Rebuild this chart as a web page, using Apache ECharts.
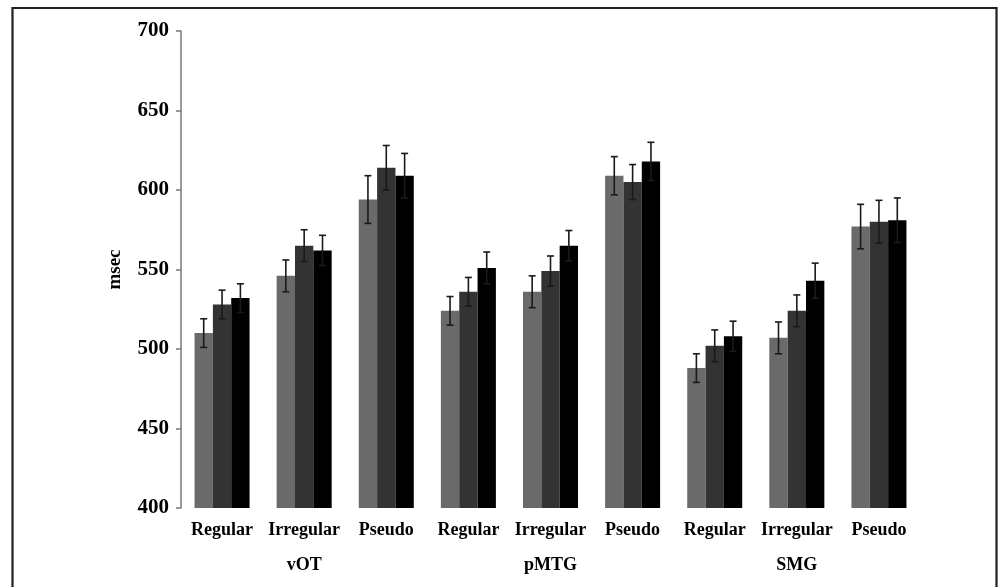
<!DOCTYPE html>
<html>
<head>
<meta charset="utf-8">
<script src="https://cdn.jsdelivr.net/npm/echarts@6/dist/echarts.min.js"></script>
<style>html,body{margin:0;padding:0;background:#fff;}#c{width:998px;height:587px;}</style>
</head>
<body>
<div id="c"></div>
<script>
var categories = ['Regular','Irregular','Pseudo','Regular','Irregular','Pseudo','Regular','Irregular','Pseudo'];
var regions = ['vOT','pMTG','SMG'];
var yTicks = [400,450,500,550,600,650,700];
var seriesA = [510, 546, 594, 524, 536, 609, 488, 507, 577];
var seriesB = [528, 565, 614, 536, 549, 605, 502, 524, 580];
var seriesC = [532, 562, 609, 551, 565, 618, 508, 543, 581];
var errA = [9, 10, 15, 9, 10, 12, 9, 10, 14];
var errB = [9, 10, 14, 9, 9.5, 11, 10, 10, 13.5];
var errC = [9, 9.5, 14, 10, 9.5, 12, 9.5, 11, 14];

var colors = ['#6a6a6a', '#333333', '#000000'];
var allVals = [seriesA, seriesB, seriesC];
var allErr = [errA, errB, errC];
var catGap = 0.33;

function errSeries(idx) {
  var data = allVals[idx].map(function (v, i) { return [i, v - allErr[idx][i], v + allErr[idx][i]]; });
  return {
    type: 'custom',
    xAxisIndex: 0,
    yAxisIndex: 0,
    z: 10,
    silent: true,
    data: data,
    renderItem: function (params, api) {
      var x = api.value(0);
      var lo = api.coord([x, api.value(1)]);
      var hi = api.coord([x, api.value(2)]);
      var band = api.size([1, 0])[0];
      var bw = band * (1 - catGap) / 3;
      var cx = lo[0] + (idx - 1) * bw;
      var cap = 3.5;
      var style = { stroke: '#1a1a1a', lineWidth: 1.6 };
      return {
        type: 'group',
        children: [
          { type: 'line', shape: { x1: cx, y1: lo[1], x2: cx, y2: hi[1] }, style: style },
          { type: 'line', shape: { x1: cx - cap, y1: hi[1], x2: cx + cap, y2: hi[1] }, style: style },
          { type: 'line', shape: { x1: cx - cap, y1: lo[1], x2: cx + cap, y2: lo[1] }, style: style }
        ]
      };
    }
  };
}

var font = 'Liberation Serif, Times New Roman, serif';
var chart = echarts.init(document.getElementById('c'), null, { renderer: 'canvas' });
var barSeries = allVals.map(function (vals, i) {
  return {
    type: 'bar',
    data: vals,
    xAxisIndex: 0,
    barGap: '0%',
    barCategoryGap: (catGap * 100) + '%',
    itemStyle: { color: colors[i] },
    silent: true
  };
});
chart.setOption({
  animation: false,
  backgroundColor: '#fff',
  grid: { left: 181, right: 78, top: 31, bottom: 79, containLabel: false },
  xAxis: [
    {
      type: 'category',
      data: categories,
      axisLine: { show: false },
      axisTick: { show: false },
      axisLabel: { color: '#000', fontFamily: font, fontWeight: 'bold', fontSize: 18, margin: 13, interval: 0 }
    },
    {
      type: 'category',
      data: regions,
      position: 'bottom',
      offset: 35,
      axisLine: { show: false },
      axisTick: { show: false },
      axisLabel: { color: '#000', fontFamily: font, fontWeight: 'bold', fontSize: 18, margin: 13, interval: 0 }
    }
  ],
  yAxis: {
    type: 'value',
    min: yTicks[0],
    max: yTicks[yTicks.length - 1],
    interval: 50,
    name: 'msec',
    nameLocation: 'middle',
    nameGap: 56,
    nameRotate: 90,
    nameTextStyle: { color: '#000', fontFamily: font, fontWeight: 'bold', fontSize: 19 },
    axisLine: { show: true, lineStyle: { color: '#7a7a7a', width: 1.5 } },
    axisTick: { show: true, length: 5, lineStyle: { color: '#7a7a7a', width: 1.5 } },
    splitLine: { show: false },
    axisLabel: { color: '#000', fontFamily: font, fontWeight: 'bold', fontSize: 21, margin: 12 }
  },
  series: barSeries.concat([errSeries(0), errSeries(1), errSeries(2)]),
  graphic: [
    {
      type: 'rect',
      shape: { x: 12.5, y: 8, width: 984, height: 600 },
      style: { fill: 'none', stroke: '#231f20', lineWidth: 2.2 },
      silent: true,
      z: 100
    }
  ]
});
</script>
</body>
</html>
